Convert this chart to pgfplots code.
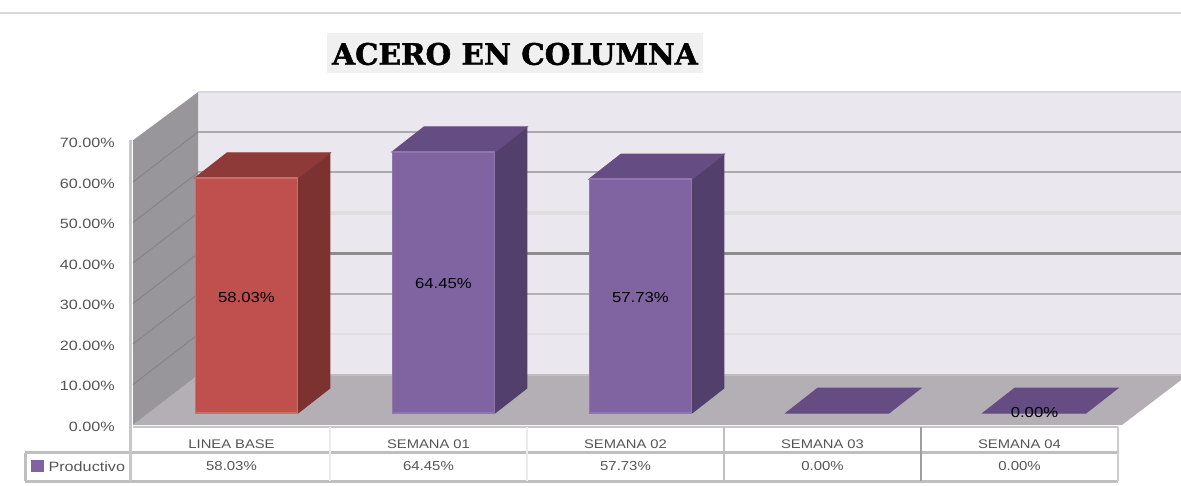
\documentclass[border=0pt]{standalone}
\usepackage{pgfplots}
\pgfplotsset{compat=1.18}
\usepackage{fontspec}
\setmainfont{Liberation Sans}
\newfontfamily\titlefont[BoldFeatures={FakeBold=1.5}]{DejaVu Serif}
\definecolor{wallc}{HTML}{EAE7EF}
\definecolor{floorc}{HTML}{B4AFB4}
\definecolor{leftc}{HTML}{98969A}
\definecolor{redf}{HTML}{C0504D}
\definecolor{reds}{HTML}{7B3230}
\definecolor{redt}{HTML}{8E3A38}
\definecolor{redb}{HTML}{C9706D}
\definecolor{purf}{HTML}{8064A2}
\definecolor{purs}{HTML}{533F6C}
\definecolor{purt}{HTML}{654C82}
\definecolor{purb}{HTML}{8F76AE}
\definecolor{txt}{HTML}{555555}
\pgfplotsset{barface/.style={xshift=15pt,yshift=12pt}}
\begin{document}
\begin{tikzpicture}[x=1pt,y=1pt]
\path[use as bounding box] (0,0) rectangle (1181,485);
\draw[color=black!15,line width=2.5pt] (0,472) -- (1181,472);
\begin{axis}[
  at={(133pt,60pt)},anchor=south west,scale only axis,
  x=197pt,y=4.05pt,xmin=0,xmax=5,ymin=0,ymax=70,clip=false,
  axis line style={draw=none},tick style={draw=none},
  xtick={0.5,1.5,2.5,3.5,4.5},
  xticklabels={LINEA BASE,SEMANA 01,SEMANA 02,SEMANA 03,SEMANA 04},
  xticklabel style={font=\fontsize{12.5}{13}\selectfont,text=txt,yshift=-11pt,xscale=1.18},
  ytick={0,10,20,30,40,50,60,70},
  yticklabels={0.00\%,10.00\%,20.00\%,30.00\%,40.00\%,50.00\%,60.00\%,70.00\%},
  yticklabel style={font=\fontsize{13.5}{14}\selectfont,text=txt,xshift=-14pt,yshift=-1.5pt,xscale=1.2},
]
% back wall, floor, left wall
\addplot[fill=wallc,draw=none] coordinates {(0.33,12.35)(5.32,12.35)(5.32,82.2)(0.33,82.2)} --cycle;
\addplot[fill=floorc,draw=none] coordinates {(0,0)(0.33,12.35)(5.32,12.35)(5.32,11.1)(5.02,0)} --cycle;
\addplot[fill=leftc,draw=none] coordinates {(0,0)(0.33,12.35)(0.33,82.2)(0,70.3)} --cycle;
% back grid lines
\addplot[color=black!15,line width=1.5pt] coordinates {(0.33,82.2)(5.32,82.2)};
\addplot[color=black!33,line width=2pt] coordinates {(0.33,72.35)(5.32,72.35)};
\addplot[color=black!33,line width=2pt] coordinates {(0.33,62.35)(5.32,62.35)};
\addplot[color=black!13,line width=4pt] coordinates {(0.33,52.35)(5.32,52.35)};
\addplot[color=black!45,line width=2.5pt] coordinates {(0.33,42.35)(5.32,42.35)};
\addplot[color=black!30,line width=2pt] coordinates {(0.33,32.35)(5.32,32.35)};
\addplot[color=black!12,line width=2pt] coordinates {(0.33,22.35)(5.32,22.35)};
\addplot[color=black!25,line width=1.5pt] coordinates {(0.33,12.35)(5.32,12.35)};
% grid lines on the left wall
\addplot[color=leftc!88!black,line width=1pt] coordinates {(0,10)(0.33,22.35)};
\addplot[color=leftc!88!black,line width=1pt] coordinates {(0,20)(0.33,32.35)};
\addplot[color=leftc!88!black,line width=1pt] coordinates {(0,30)(0.33,42.35)};
\addplot[color=leftc!88!black,line width=1pt] coordinates {(0,40)(0.33,52.35)};
\addplot[color=leftc!88!black,line width=1pt] coordinates {(0,50)(0.33,62.35)};
\addplot[color=leftc!88!black,line width=1pt] coordinates {(0,60)(0.33,72.35)};
% bars: shifted faces
\addplot[barface,fill=reds,draw=reds,line width=1pt] coordinates {(0.7614,0)(0.9238,6.17)(0.9238,64.20)(0.7614,58.03)} --cycle;
\addplot[barface,fill=redt,draw=redt,line width=1pt] coordinates {(0.2386,58.03)(0.7614,58.03)(0.9238,64.20)(0.4010,64.20)} --cycle;
\addplot[barface,fill=purs,draw=purs,line width=1pt] coordinates {(1.7614,0)(1.9238,6.17)(1.9238,70.62)(1.7614,64.45)} --cycle;
\addplot[barface,fill=purt,draw=purt,line width=1pt] coordinates {(1.2386,64.45)(1.7614,64.45)(1.9238,70.62)(1.4010,70.62)} --cycle;
\addplot[barface,fill=purs,draw=purs,line width=1pt] coordinates {(2.7614,0)(2.9238,6.17)(2.9238,63.90)(2.7614,57.73)} --cycle;
\addplot[barface,fill=purt,draw=purt,line width=1pt] coordinates {(2.2386,57.73)(2.7614,57.73)(2.9238,63.90)(2.4010,63.90)} --cycle;
\addplot[barface,fill=purt,draw=purt,line width=1pt] coordinates {(3.2386,0)(3.7614,0)(3.9238,6.17)(3.4010,6.17)} --cycle;
\addplot[barface,fill=purt,draw=purt,line width=1pt] coordinates {(4.2386,0)(4.7614,0)(4.9238,6.17)(4.4010,6.17)} --cycle;
\addplot[barface,ybar,bar width=102pt,bar shift=0pt,fill=redf,draw=redb,line width=1.5pt] coordinates {(0.5,58.03)};
\addplot[barface,ybar,bar width=102pt,bar shift=0pt,fill=purf,draw=purb,line width=1.5pt] coordinates {(1.5,64.45)(2.5,57.73)};
\node[font=\fontsize{14.5}{15}\selectfont,text=black,xscale=1.15] at (axis cs:0.576,31.6) {58.03\%};
\node[font=\fontsize{14.5}{15}\selectfont,text=black,xscale=1.15] at (axis cs:1.576,35) {64.45\%};
\node[font=\fontsize{14.5}{15}\selectfont,text=black,xscale=1.15] at (axis cs:2.576,31.6) {57.73\%};
\node[font=\fontsize{14.5}{15}\selectfont,text=black,xscale=1.15] at (axis cs:4.576,3) {0.00\%};
% table
\addplot[color=black!22,line width=2.5pt] coordinates {(0,-0.5)(5,-0.5)};
\addplot[color=black!25,line width=3pt] coordinates {(-0.548,-6.91)(5,-6.91)};
\addplot[color=black!25,line width=3pt] coordinates {(-0.548,-13.83)(5,-13.83)};
\addplot[color=black!25,line width=3pt] coordinates {(-0.548,-6.91)(-0.548,-13.83)};
\addplot[color=black!22,line width=3pt] coordinates {(-0.015,70.3)(-0.015,-13.83)};
\addplot[color=black!8,line width=2pt] coordinates {(1,-0.5)(1,-13.83)};
\addplot[color=black!8,line width=2pt] coordinates {(2,-0.5)(2,-13.83)};
\addplot[color=black!25,line width=2pt] coordinates {(3,-0.5)(3,-13.83)};
\addplot[color=black!38,line width=2.5pt] coordinates {(4,-0.5)(4,-13.83)};
\addplot[color=black!20,line width=2.5pt] coordinates {(5,-0.5)(5,-13.83)};
\addplot[fill=purf,draw=none] coordinates {(-0.518,-8.64)(-0.452,-8.64)(-0.452,-11.6)(-0.518,-11.6)} --cycle;
\node[font=\fontsize{13.5}{14}\selectfont,text=txt,anchor=west,inner sep=0pt,xscale=1.2] at (axis cs:-0.43,-10.2) {Productivo};
\node[font=\fontsize{13}{14}\selectfont,text=txt,xscale=1.15] at (axis cs:0.5,-10.2) {58.03\%};
\node[font=\fontsize{13}{14}\selectfont,text=txt,xscale=1.15] at (axis cs:1.5,-10.2) {64.45\%};
\node[font=\fontsize{13}{14}\selectfont,text=txt,xscale=1.15] at (axis cs:2.5,-10.2) {57.73\%};
\node[font=\fontsize{13}{14}\selectfont,text=txt,xscale=1.15] at (axis cs:3.5,-10.2) {0.00\%};
\node[font=\fontsize{13}{14}\selectfont,text=txt,xscale=1.15] at (axis cs:4.5,-10.2) {0.00\%};
\end{axis}
\fill[black!6] (327,412) rectangle (703,452);
\node[font=\titlefont\bfseries\fontsize{29.5}{32}\selectfont,text=black] at (515,431) {ACERO EN COLUMNA};
\end{tikzpicture}
\end{document}
